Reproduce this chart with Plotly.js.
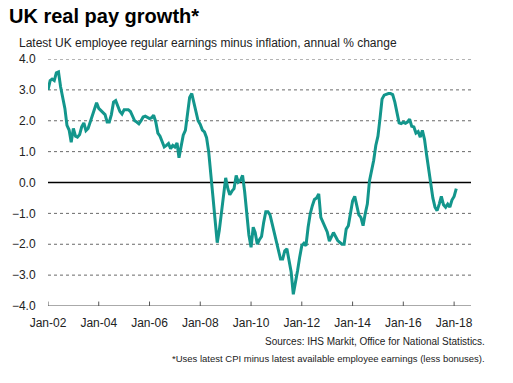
<!DOCTYPE html>
<html>
<head>
<meta charset="utf-8">
<script src="https://cdn.plot.ly/plotly-3.0.1.min.js"></script>
<style>
html,body{margin:0;padding:0;background:#fff;}
#chart{width:513px;height:383px;}
</style>
</head>
<body>
<div id="chart"></div>
<script>
// Monthly series, starting January 2002
const startYear = 2002;
const startMonth = 1;
const realPayGrowth = [
  3.0, 3.3, 3.35, 3.3, 3.55, 3.58, 3.1, 2.8, 2.4, 1.85, 1.7, 1.3,
  1.75, 1.5, 1.47, 1.55, 1.8, 1.93, 1.68, 1.75, 1.95, 2.18, 2.4, 2.58,
  2.4, 2.33, 2.28, 2.2, 1.96, 1.96, 2.2, 2.6, 2.65, 2.45, 2.3, 2.22,
  2.36, 2.36, 2.36, 2.3, 2.15, 2.0, 1.96, 1.9, 2.0, 2.12, 2.15, 2.1,
  2.07, 2.1, 2.18, 1.96, 1.6, 1.5, 1.3, 1.15, 1.2, 1.26, 1.1, 1.2,
  1.15, 1.28, 0.8, 1.2, 1.53, 1.69, 2.3, 2.75, 2.88, 2.56, 2.29, 2.0,
  1.88, 1.7, 1.64, 1.45, 1.0, 0.35, -0.45, -1.2, -1.95, -1.55, -1.0, -0.3,
  0.15, -0.2, -0.4, -0.28, -0.2, 0.23, 0.01, 0.07, 0.23, -0.3, -0.95, -1.7,
  -2.1, -1.45, -1.62, -2.0, -1.85, -1.75, -1.3, -0.95, -0.95, -1.05, -1.34, -1.62,
  -1.95, -2.2, -2.48, -2.48, -2.21, -2.15, -2.6, -2.9, -3.62, -3.3, -2.86, -2.43,
  -2.05, -1.97, -2.05, -1.45, -1.02, -0.75, -0.55, -0.5, -0.37, -1.13, -1.29, -1.45,
  -1.6, -1.9, -1.75, -1.62, -1.75, -1.88, -1.94, -2.0, -2.0, -1.51, -1.4, -1.0,
  -0.6, -0.45, -0.7, -1.05, -1.13, -1.4, -1.02, -0.7, 0.05, 0.39, 0.72, 1.2,
  1.5, 2.1, 2.7, 2.83, 2.86, 2.88, 2.88, 2.85, 2.6, 2.25, 1.93, 1.91,
  1.95, 1.92, 1.96, 2.05, 1.82, 1.8, 1.6, 1.65, 1.47, 1.69, 1.4, 0.9,
  0.4, -0.1, -0.5, -0.8, -0.91, -0.7, -0.45, -0.72, -0.8, -0.7, -0.8, -0.57,
  -0.45, -0.2
];
const xRange = ['2002-01-01', '2018-09-01'];
const xTickVals = ['2002-01-01','2004-01-01','2006-01-01','2008-01-01','2010-01-01','2012-01-01','2014-01-01','2016-01-01','2018-01-01'];
const xTickText = ['Jan-02','Jan-04','Jan-06','Jan-08','Jan-10','Jan-12','Jan-14','Jan-16','Jan-18'];
const yTickVals = [-4, -3, -2, -1, 0, 1, 2, 3, 4];
const yGridVals = [-3, -2, -1, 1, 2, 3, 4];

const titleText = 'UK real pay growth*';
const subtitleText = 'Latest UK employee regular earnings minus inflation, annual % change';
const sourceText = 'Sources: IHS Markit, Office for National Statistics.';
const noteText = '*Uses latest CPI minus latest available employee earnings (less bonuses).';

const dates = realPayGrowth.map((v, i) => {
  const m = startMonth - 1 + i;
  const y = startYear + Math.floor(m / 12);
  const mm = (m % 12) + 1;
  return y + '-' + String(mm).padStart(2, '0') + '-01';
});

const font = 'Arial, "Liberation Sans", sans-serif';

// Gridlines as line traces spanning the axis range
const gridTraces = yGridVals.map(v => ({
  x: xRange, y: [v, v], type: 'scatter', mode: 'lines',
  line: {color: '#6a6a6a', width: 1, dash: 'dot'},
  hoverinfo: 'skip', cliponaxis: false
}));
const zeroTrace = {
  x: xRange, y: [0, 0], type: 'scatter', mode: 'lines',
  line: {color: '#000', width: 1.5}, hoverinfo: 'skip'
};

const trace = {
  x: dates, y: realPayGrowth, type: 'scatter', mode: 'lines',
  line: {color: '#13968c', width: 3},
  hoverinfo: 'skip'
};

const plotH = 383 - 59 - 77;
function py(pixY) { return (383 - 77 - pixY) / plotH; }
const plotW = 513 - 48 - 42;
function px(pixX) { return (pixX - 48) / plotW; }

const tickShapes = xTickVals.map(d => ({
  type: 'line', xref: 'x', yref: 'paper', x0: d, x1: d, y0: 0, y1: 0.018,
  line: {color: '#555', width: 1}, layer: 'below'
}));

const layout = {
  width: 513, height: 383,
  margin: {l: 48, r: 42, t: 59, b: 77},
  paper_bgcolor: '#fff', plot_bgcolor: '#fff',
  showlegend: false,
  font: {family: font, color: '#222', size: 12},
  xaxis: {
    type: 'date',
    range: xRange,
    tickvals: xTickVals, ticktext: xTickText,
    showgrid: false, zeroline: false, showline: false,
    ticks: 'outside', ticklen: 6, tickcolor: 'rgba(0,0,0,0)',
    tickfont: {size: 12, color: '#222'},
    fixedrange: true
  },
  yaxis: {
    range: [-4, 4],
    tickvals: yTickVals,
    tickformat: '.1f',
    showgrid: false, zeroline: false, showline: false,
    ticks: 'outside', ticklen: 9, tickcolor: 'rgba(0,0,0,0)',
    tickfont: {size: 12, color: '#222'},
    fixedrange: true
  },
  shapes: tickShapes.concat([
    {type: 'line', xref: 'paper', yref: 'y', x0: 0, x1: 1, y0: -4, y1: -4,
     line: {color: '#555', width: 1}, layer: 'below'}
  ]),
  annotations: [
    {text: '<b>' + titleText + '</b>', xref: 'paper', yref: 'paper', x: px(7), y: py(16),
     xanchor: 'left', yanchor: 'middle', showarrow: false,
     font: {size: 20, color: '#000', family: font}},
    {text: subtitleText, xref: 'paper', yref: 'paper', x: px(17), y: py(43),
     xanchor: 'left', yanchor: 'middle', showarrow: false,
     font: {size: 12, color: '#222', family: font}},
    {text: sourceText, xref: 'paper', yref: 'paper', x: px(487), y: py(341),
     xanchor: 'right', yanchor: 'middle', showarrow: false,
     font: {size: 10, color: '#222', family: font}},
    {text: noteText, xref: 'paper', yref: 'paper', x: px(487), y: py(358),
     xanchor: 'right', yanchor: 'middle', showarrow: false,
     font: {size: 9.5, color: '#222', family: font}}
  ]
};

Plotly.newPlot('chart', gridTraces.concat([zeroTrace, trace]), layout, {displayModeBar: false, staticPlot: true});
</script>
</body>
</html>
